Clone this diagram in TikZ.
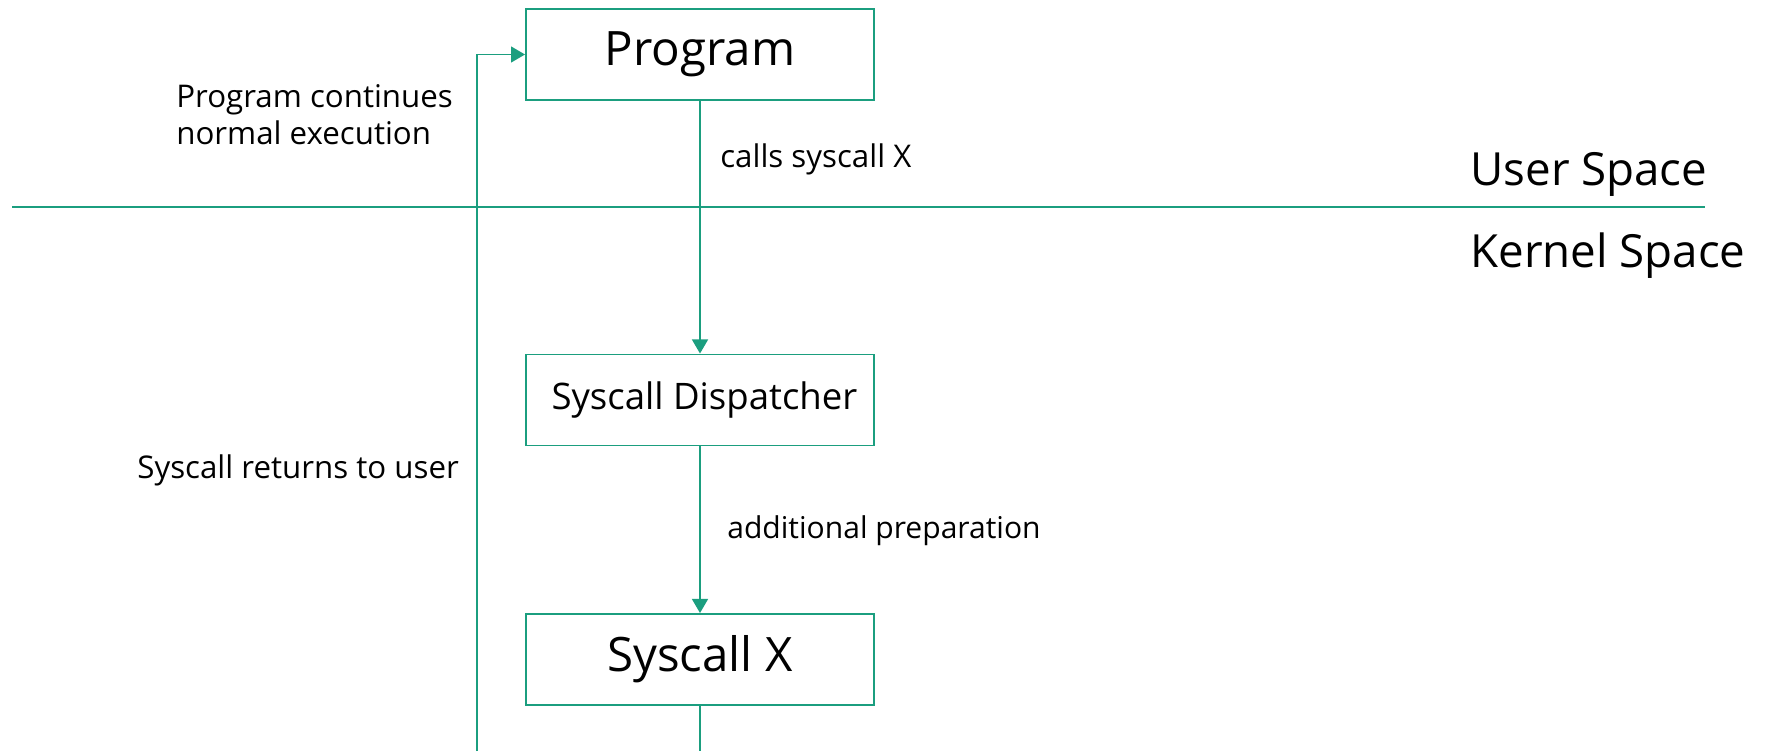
\documentclass[tikz,border=0pt]{standalone}
\usepackage{fontspec}
\setmainfont{Open Sans}
\usetikzlibrary{arrows.meta}
\definecolor{flowline}{HTML}{1B9E7F}
\tikzset{
  stage/.style={draw=flowline, line width=1.1pt, minimum width=6.96cm,
                minimum height=1.82cm, inner sep=0pt},
  flow/.style={draw=flowline, line width=1.1pt},
  flowarrow/.style={flow, -{Triangle[length=8pt, width=9pt]}},
  note/.style={font=\fontsize{17.8}{21}\selectfont, inner sep=0pt, anchor=base west},
  spacelabel/.style={font=\fontsize{26}{31}\selectfont, inner sep=0pt, anchor=base west},
}

\begin{document}
\begin{tikzpicture}[x=0.02cm, y=-0.02cm]
    \useasboundingbox (0,0) rectangle (1772,751);
    \node[stage, font=\fontsize{27}{32}\selectfont] (prog) at (700, 54.5) {Program};
    \node[stage, font=\fontsize{20.8}{25}\selectfont] (disp) at (700, 400) {\hspace{5pt}Syscall Dispatcher};
    \node[stage, font=\fontsize{27}{32}\selectfont] (sysx) at (700, 659.5) {Syscall X};
    \coordinate (sepl) at (12, 207);
    \coordinate (sepr) at (1705, 207);
    \coordinate (sysbot) at (700, 751);
    \coordinate (retbot) at (477, 751);
    \draw[flow] (sepl) -- (sepr);
    \node[spacelabel] (user) at (1470, 185) {User Space};
    \node[spacelabel] (kernel) at (1470, 267) {Kernel Space};
    \draw[flowarrow] (prog) -- (disp);
    \draw[flowarrow] (disp) -- (sysx);
    \draw[flow] (sysx) -- (sysbot);
    \draw[flowarrow] (retbot) |- (prog.west);
    \node[note] (calls) at (720, 167) {calls syscall X};
    \node[note, font=\fontsize{17.1}{21}\selectfont] (prep) at (727, 538) {additional preparation};
    \node[note] (ret) at (137, 478) {Syscall returns to user};
    \node[note, align=left] (cont) at (176, 144) {Program continues\\normal execution};
  \end{tikzpicture}
\end{document}
